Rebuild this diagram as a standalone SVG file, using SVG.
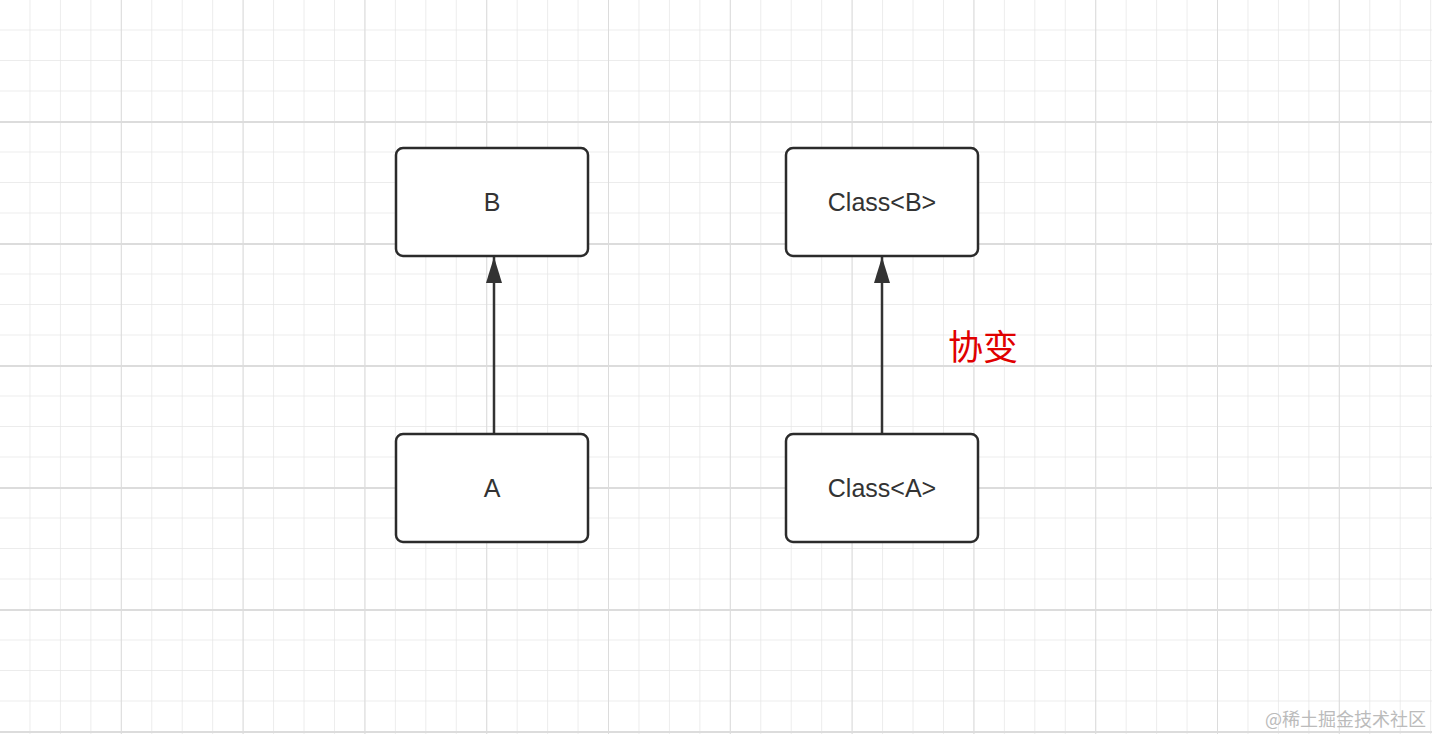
<svg xmlns="http://www.w3.org/2000/svg" width="1432" height="734" viewBox="0 0 1432 734">
<defs>
<pattern id="minor" x="0" y="0" width="30.45" height="30.5" patternUnits="userSpaceOnUse">
<path d="M30.45 0V30.5M0 30.5H30.45" fill="none" stroke="#e6e6e6" stroke-width="1.5"/>
</pattern>
<pattern id="major" x="0" y="0" width="121.8" height="122" patternUnits="userSpaceOnUse">
<path d="M121.8 0V122M0 122H121.8" fill="none" stroke="#dcdcdc" stroke-width="2"/>
</pattern>
<marker id="arr" markerWidth="26" markerHeight="16" viewBox="0 0 26 16" refX="26" refY="8" orient="auto" markerUnits="userSpaceOnUse">
<path d="M0 0L26 8L0 16Z" fill="#333"/>
</marker>
</defs>
<style>
.box{fill:#fff;stroke:#2b2b2b;stroke-width:2.5}
.lbl{font-family:"Liberation Sans",Arial,sans-serif;font-size:25px;fill:#333;text-anchor:middle;dominant-baseline:central}
.edge{stroke:#333;stroke-width:2.5;fill:none}
</style>
<rect width="1432" height="734" fill="#fff"/>
<rect width="1432" height="734" fill="url(#minor)"/>
<rect width="1432" height="734" fill="url(#major)"/>
<g id="connectors">
<path class="edge" d="M494 433V257" marker-end="url(#arr)"/>
<path class="edge" d="M882 433V257" marker-end="url(#arr)"/>
</g>
<g id="nodeB"><rect class="box" x="396" y="148" width="192" height="108" rx="7"/><text class="lbl" x="492" y="202">B</text></g>
<g id="nodeA"><rect class="box" x="396" y="434" width="192" height="108" rx="7"/><text class="lbl" x="492" y="488">A</text></g>
<g id="nodeCB"><rect class="box" x="786" y="148" width="192" height="108" rx="7"/><text class="lbl" x="882" y="202">Class&lt;B&gt;</text></g>
<g id="nodeCA"><rect class="box" x="786" y="434" width="192" height="108" rx="7"/><text class="lbl" x="882" y="488">Class&lt;A&gt;</text></g>
<text x="983" y="344" font-family="'Noto Sans CJK SC',sans-serif" font-size="35" fill="#e00000" text-anchor="middle" dominant-baseline="central">协变</text>
<text x="1426" y="718" font-family="'Noto Sans CJK SC',sans-serif" font-size="18" fill="#bbb" text-anchor="end" dominant-baseline="central">@稀土掘金技术社区</text>
</svg>
